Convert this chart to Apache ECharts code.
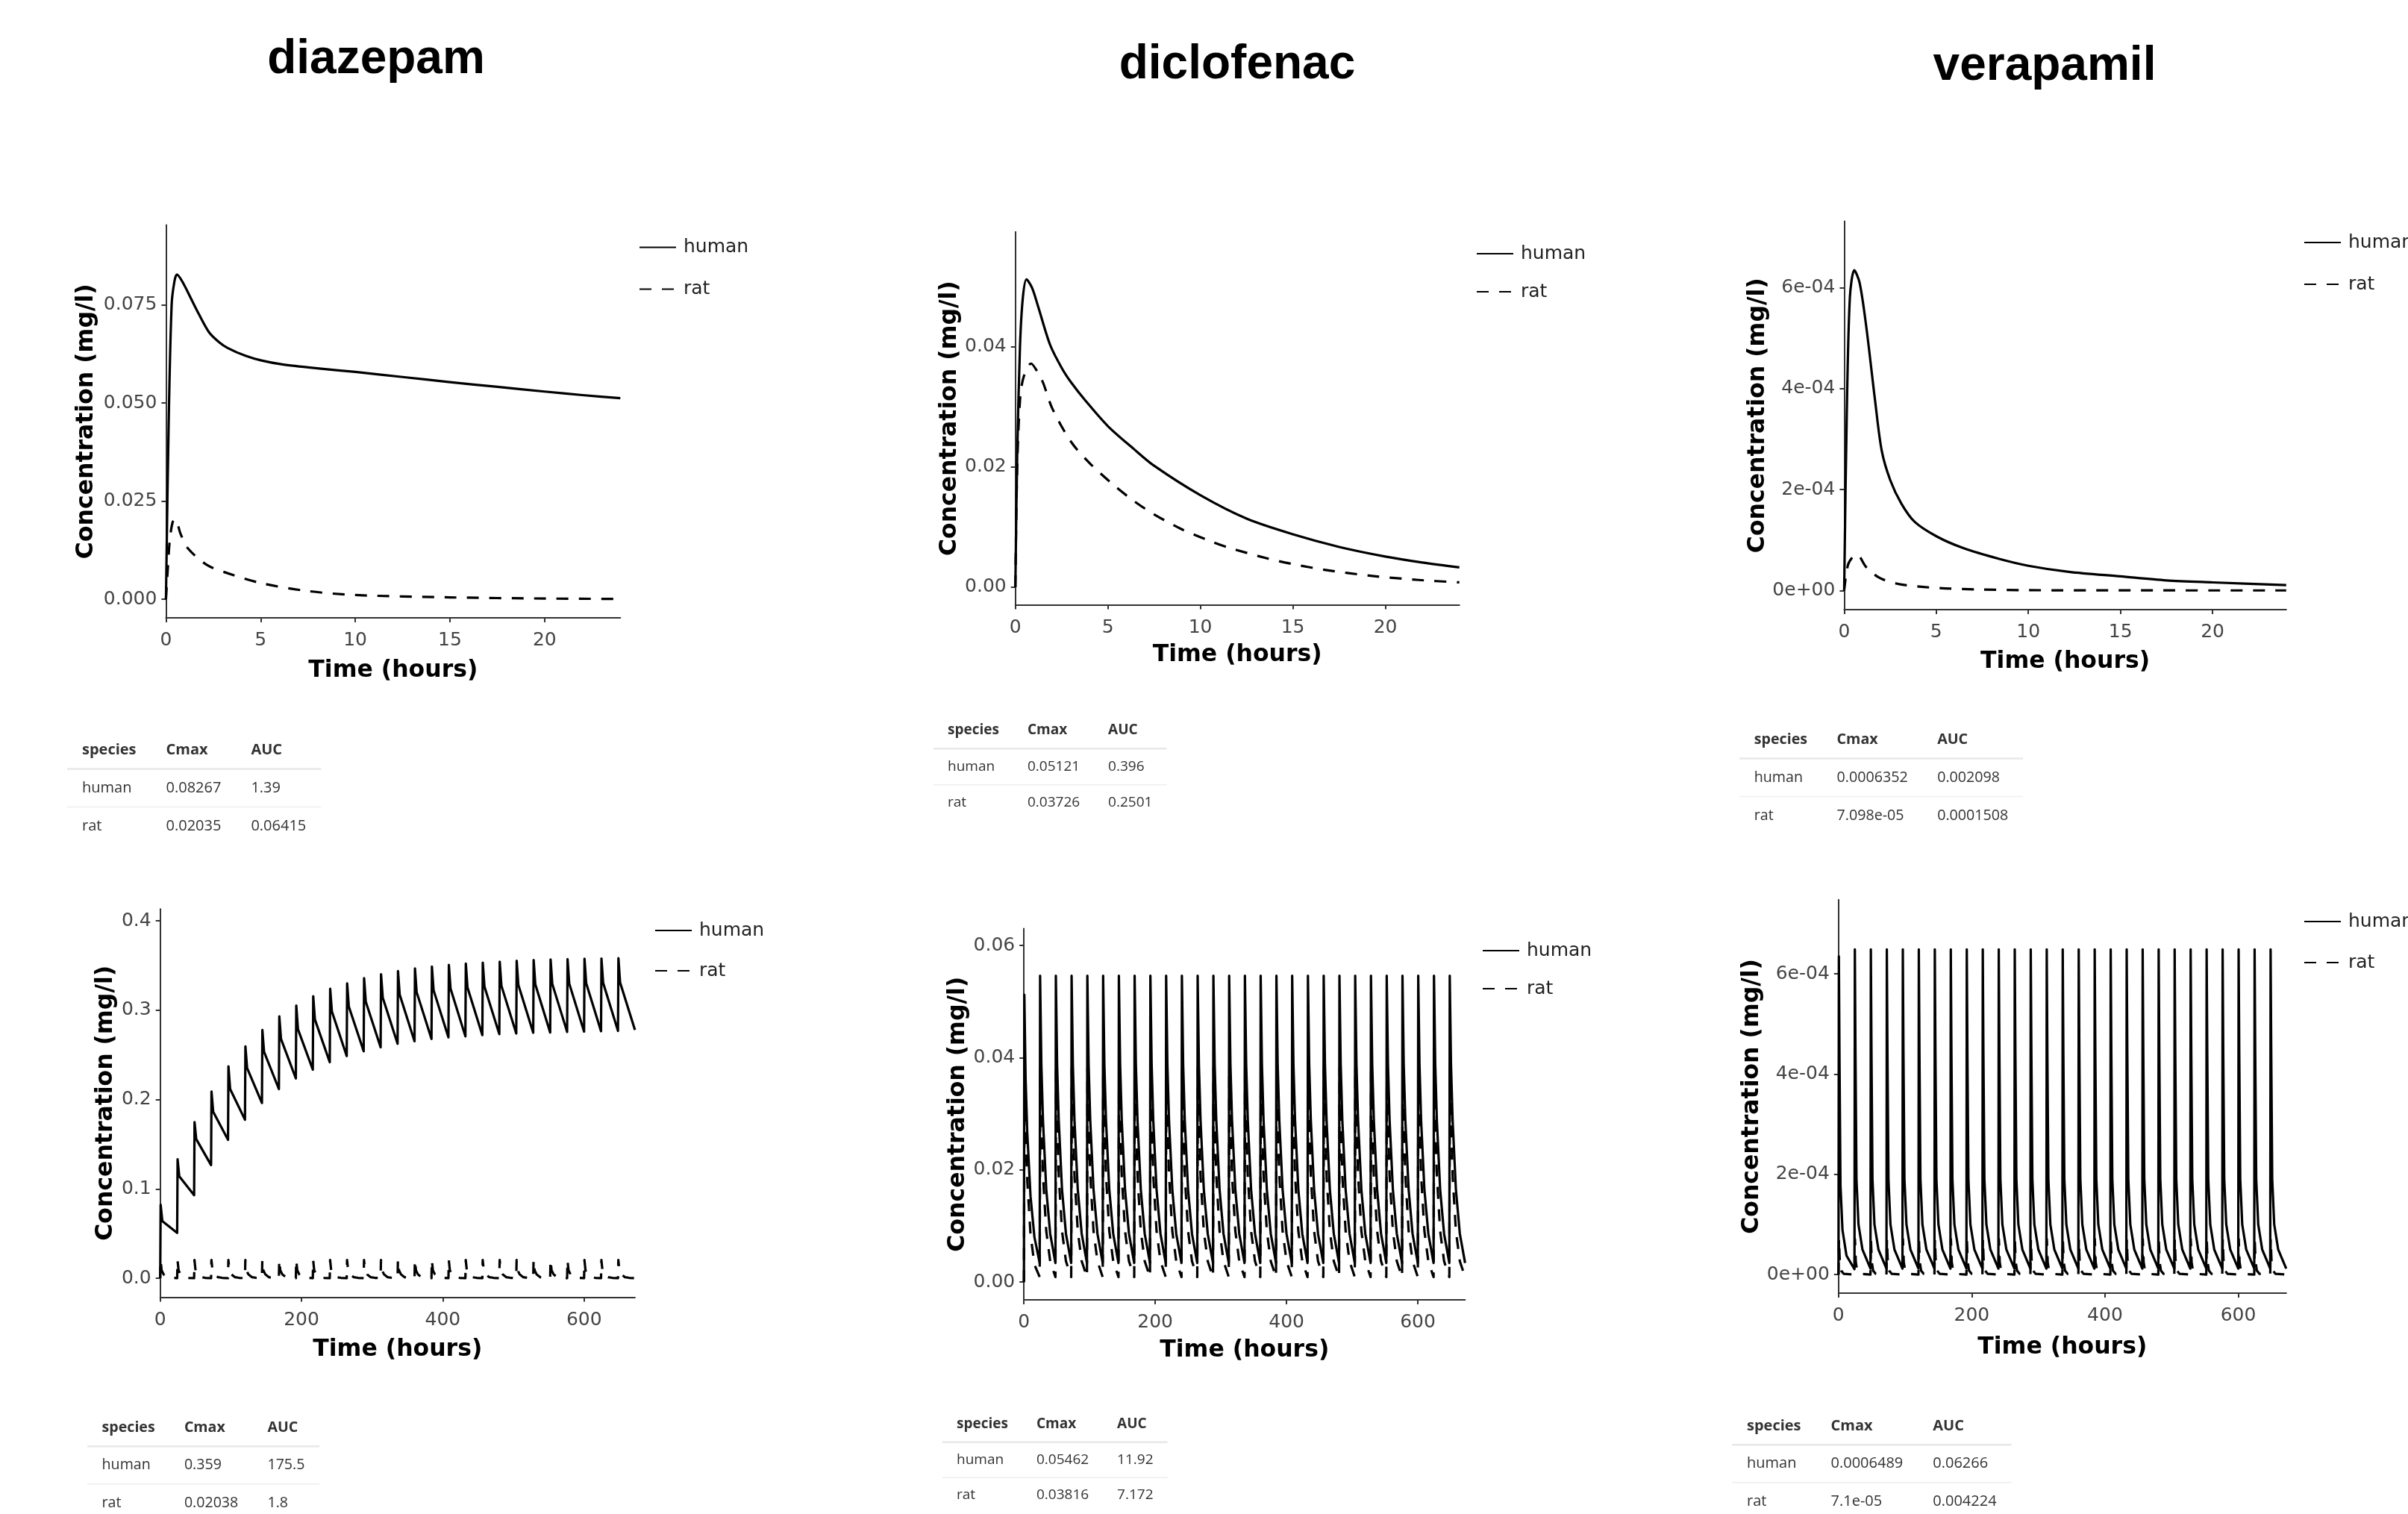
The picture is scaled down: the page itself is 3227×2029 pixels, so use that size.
<!DOCTYPE html>
<html><head><meta charset="utf-8">
<script src="https://cdn.jsdelivr.net/npm/echarts@6/dist/echarts.min.js"></script>
<style>html,body{margin:0;padding:0;background:#fff;}#c{width:3227px;height:2029px;}</style>
</head><body><div id="c"></div>
<script>
// ---------------- DATA ----------------
const drugNames = ['diazepam', 'diclofenac', 'verapamil'];
const seriesNames = ['human', 'rat'];
const xTicksShort = [0, 5, 10, 15, 20];
const xLabelsShort = ['0', '5', '10', '15', '20'];
const xTicksLong = [0, 200, 400, 600];
const xLabelsLong = ['0', '200', '400', '600'];
const dzShortYTicks = [0, 0.025, 0.05, 0.075];
const dzShortYLabels = ['0.000', '0.025', '0.050', '0.075'];
const dcShortYTicks = [0, 0.02, 0.04];
const dcShortYLabels = ['0.00', '0.02', '0.04'];
const vpYTicks = [0, 0.0002, 0.0004, 0.0006];
const vpYLabels = ['0e+00', '2e-04', '4e-04', '6e-04'];
const dzLongYTicks = [0, 0.1, 0.2, 0.3, 0.4];
const dzLongYLabels = ['0.0', '0.1', '0.2', '0.3', '0.4'];
const dcLongYTicks = [0, 0.02, 0.04, 0.06];
const dcLongYLabels = ['0.00', '0.02', '0.04', '0.06'];

// single dose, 0-24 h : [time (h), concentration (mg/l)]
const dzShortHuman = [[0,0],[0.14,0.044],[0.3,0.075],[0.45,0.081],[0.58,0.0827],[0.91,0.0805],[1.32,0.0766],[1.74,0.0726],[2.29,0.0679],[2.8,0.0655],[3.26,0.064],[4.2,0.062],[5.05,0.0608],[6.15,0.0598],[8,0.0588],[10,0.0579],[12.5,0.0566],[15,0.0553],[17.5,0.0541],[20,0.0529],[22,0.052],[24,0.0512]];
const dzShortRat = [[0,0],[0.1,0.008],[0.2,0.015],[0.35,0.0196],[0.5,0.0204],[0.77,0.0167],[1.19,0.0128],[2.15,0.0088],[3.1,0.0069],[5.05,0.0041],[7.5,0.0021],[10,0.0011],[15,0.0005],[20,0.0002],[24,0.0001]];
const dcShortHuman = [[0,0],[0.1,0.022],[0.25,0.04],[0.4,0.048],[0.6,0.0512],[0.9,0.0498],[1.23,0.0467],[1.88,0.0403],[2.52,0.0364],[3.03,0.034],[3.8,0.031],[5,0.0268],[6.4,0.023],[7.5,0.0202],[10,0.0153],[12.5,0.0114],[15,0.0088],[17.5,0.0067],[20,0.0051],[22,0.0041],[24,0.0033]];
const dcShortRat = [[0,0],[0.1,0.02],[0.26,0.0315],[0.45,0.035],[0.85,0.0372],[1.2,0.0358],[1.5,0.034],[2,0.0297],[3.03,0.0241],[4.06,0.0205],[5.35,0.0169],[6.38,0.0144],[7.4,0.0123],[8.95,0.0097],[10.5,0.0077],[11.5,0.0066],[13.6,0.0048],[14.9,0.0039],[16.7,0.0029],[19.2,0.0019],[21.8,0.0012],[24,0.0008]];
const vpShortHuman = [[0,0],[0.14,0.000347],[0.31,0.000581],[0.55,0.000635],[0.84,0.00061],[1.2,0.000523],[1.68,0.000376],[2.04,0.000277],[2.51,0.000218],[3.11,0.000172],[3.83,0.000136],[5.03,0.000107],[6.47,0.000084],[8.38,0.000063],[10,0.000049],[12.2,0.000037],[15,0.000028],[17.5,0.00002],[20,0.000016],[24,0.0000105]];
const vpShortRat = [[0,0],[0.2,0.00005],[0.45,0.000066],[0.7,0.000071],[1.2,0.000046],[1.92,0.000025],[2.87,0.0000135],[4.07,0.0000076],[5.5,0.0000041],[7.4,0.0000018],[10,0.0000006],[15,0.0000002],[24,0.0000001]];

// repeated dosing every 24 h, 0-672 h : [time (h), concentration (mg/l)]
const dzLongHuman = [[0,0],[0.6,0.0822],[3,0.064],[24,0.0507],[24.6,0.1332],[27,0.114],[48,0.093],[48.6,0.1748],[51,0.1557],[72,0.1267],[72.6,0.2089],[75,0.1864],[96,0.155],[96.6,0.2371],[99,0.2118],[120,0.1774],[120.6,0.2596],[123,0.2353],[144,0.1962],[144.6,0.278],[147,0.2534],[168,0.2118],[168.6,0.2932],[171,0.2679],[192,0.2237],[192.6,0.3052],[195,0.2787],[216,0.2335],[216.6,0.3157],[219,0.2896],[240,0.2418],[240.6,0.324],[243,0.2987],[264,0.2487],[264.6,0.3301],[267,0.3041],[288,0.2541],[288.6,0.3359],[291,0.3095],[312,0.2585],[312.6,0.3403],[315,0.3142],[336,0.2625],[336.6,0.3439],[339,0.3175],[360,0.2653],[360.6,0.3468],[363,0.3203],[384,0.2679],[384.6,0.349],[387,0.3224],[408,0.2697],[408.6,0.3508],[411,0.3241],[432,0.2708],[432.6,0.3522],[435,0.3254],[456,0.2722],[456.6,0.3533],[459,0.3265],[480,0.2733],[480.6,0.3544],[483,0.3274],[504,0.274],[504.6,0.3555],[507,0.3283],[528,0.2748],[528.6,0.3562],[531,0.3289],[552,0.2751],[552.6,0.3569],[555,0.3295],[576,0.2758],[576.6,0.3573],[579,0.3299],[600,0.2762],[600.6,0.3577],[603,0.3303],[624,0.2766],[624.6,0.358],[627,0.3306],[648,0.2769],[648.6,0.3584],[651,0.331],[672,0.278]];
const dzLongRat = [[0,0],[0.5,0.0204],[2,0.0088],[5,0.0041],[10,0.0011],[16,0.0004],[24,0.0001],[24.5,0.0204],[26,0.0088],[29,0.0041],[34,0.0011],[40,0.0004],[48,0.0001],[48.5,0.0204],[50,0.0088],[53,0.0041],[58,0.0011],[64,0.0004],[72,0.0001],[72.5,0.0204],[74,0.0088],[77,0.0041],[82,0.0011],[88,0.0004],[96,0.0001],[96.5,0.0204],[98,0.0088],[101,0.0041],[106,0.0011],[112,0.0004],[120,0.0001],[120.5,0.0204],[122,0.0088],[125,0.0041],[130,0.0011],[136,0.0004],[144,0.0001],[144.5,0.0204],[146,0.0088],[149,0.0041],[154,0.0011],[160,0.0004],[168,0.0001],[168.5,0.0204],[170,0.0088],[173,0.0041],[178,0.0011],[184,0.0004],[192,0.0001],[192.5,0.0204],[194,0.0088],[197,0.0041],[202,0.0011],[208,0.0004],[216,0.0001],[216.5,0.0204],[218,0.0088],[221,0.0041],[226,0.0011],[232,0.0004],[240,0.0001],[240.5,0.0204],[242,0.0088],[245,0.0041],[250,0.0011],[256,0.0004],[264,0.0001],[264.5,0.0204],[266,0.0088],[269,0.0041],[274,0.0011],[280,0.0004],[288,0.0001],[288.5,0.0204],[290,0.0088],[293,0.0041],[298,0.0011],[304,0.0004],[312,0.0001],[312.5,0.0204],[314,0.0088],[317,0.0041],[322,0.0011],[328,0.0004],[336,0.0001],[336.5,0.0204],[338,0.0088],[341,0.0041],[346,0.0011],[352,0.0004],[360,0.0001],[360.5,0.0204],[362,0.0088],[365,0.0041],[370,0.0011],[376,0.0004],[384,0.0001],[384.5,0.0204],[386,0.0088],[389,0.0041],[394,0.0011],[400,0.0004],[408,0.0001],[408.5,0.0204],[410,0.0088],[413,0.0041],[418,0.0011],[424,0.0004],[432,0.0001],[432.5,0.0204],[434,0.0088],[437,0.0041],[442,0.0011],[448,0.0004],[456,0.0001],[456.5,0.0204],[458,0.0088],[461,0.0041],[466,0.0011],[472,0.0004],[480,0.0001],[480.5,0.0204],[482,0.0088],[485,0.0041],[490,0.0011],[496,0.0004],[504,0.0001],[504.5,0.0204],[506,0.0088],[509,0.0041],[514,0.0011],[520,0.0004],[528,0.0001],[528.5,0.0204],[530,0.0088],[533,0.0041],[538,0.0011],[544,0.0004],[552,0.0001],[552.5,0.0204],[554,0.0088],[557,0.0041],[562,0.0011],[568,0.0004],[576,0.0001],[576.5,0.0204],[578,0.0088],[581,0.0041],[586,0.0011],[592,0.0004],[600,0.0001],[600.5,0.0204],[602,0.0088],[605,0.0041],[610,0.0011],[616,0.0004],[624,0.0001],[624.5,0.0204],[626,0.0088],[629,0.0041],[634,0.0011],[640,0.0004],[648,0.0001],[648.5,0.0204],[650,0.0088],[653,0.0041],[658,0.0011],[664,0.0004],[672,0.0001]];
const dcLongHuman = [[0,0],[0.6,0.0512],[2.5,0.0364],[5,0.0268],[10,0.0153],[16,0.008],[24,0.0034],[24.6,0.0546],[26.5,0.0389],[29,0.0288],[34,0.0165],[40,0.0086],[48,0.0034],[48.6,0.0546],[50.5,0.0389],[53,0.0288],[58,0.0165],[64,0.0086],[72,0.0034],[72.6,0.0546],[74.5,0.0389],[77,0.0288],[82,0.0165],[88,0.0086],[96,0.0034],[96.6,0.0546],[98.5,0.0389],[101,0.0288],[106,0.0165],[112,0.0086],[120,0.0034],[120.6,0.0546],[122.5,0.0389],[125,0.0288],[130,0.0165],[136,0.0086],[144,0.0034],[144.6,0.0546],[146.5,0.0389],[149,0.0288],[154,0.0165],[160,0.0086],[168,0.0034],[168.6,0.0546],[170.5,0.0389],[173,0.0288],[178,0.0165],[184,0.0086],[192,0.0034],[192.6,0.0546],[194.5,0.0389],[197,0.0288],[202,0.0165],[208,0.0086],[216,0.0034],[216.6,0.0546],[218.5,0.0389],[221,0.0288],[226,0.0165],[232,0.0086],[240,0.0034],[240.6,0.0546],[242.5,0.0389],[245,0.0288],[250,0.0165],[256,0.0086],[264,0.0034],[264.6,0.0546],[266.5,0.0389],[269,0.0288],[274,0.0165],[280,0.0086],[288,0.0034],[288.6,0.0546],[290.5,0.0389],[293,0.0288],[298,0.0165],[304,0.0086],[312,0.0034],[312.6,0.0546],[314.5,0.0389],[317,0.0288],[322,0.0165],[328,0.0086],[336,0.0034],[336.6,0.0546],[338.5,0.0389],[341,0.0288],[346,0.0165],[352,0.0086],[360,0.0034],[360.6,0.0546],[362.5,0.0389],[365,0.0288],[370,0.0165],[376,0.0086],[384,0.0034],[384.6,0.0546],[386.5,0.0389],[389,0.0288],[394,0.0165],[400,0.0086],[408,0.0034],[408.6,0.0546],[410.5,0.0389],[413,0.0288],[418,0.0165],[424,0.0086],[432,0.0034],[432.6,0.0546],[434.5,0.0389],[437,0.0288],[442,0.0165],[448,0.0086],[456,0.0034],[456.6,0.0546],[458.5,0.0389],[461,0.0288],[466,0.0165],[472,0.0086],[480,0.0034],[480.6,0.0546],[482.5,0.0389],[485,0.0288],[490,0.0165],[496,0.0086],[504,0.0034],[504.6,0.0546],[506.5,0.0389],[509,0.0288],[514,0.0165],[520,0.0086],[528,0.0034],[528.6,0.0546],[530.5,0.0389],[533,0.0288],[538,0.0165],[544,0.0086],[552,0.0034],[552.6,0.0546],[554.5,0.0389],[557,0.0288],[562,0.0165],[568,0.0086],[576,0.0034],[576.6,0.0546],[578.5,0.0389],[581,0.0288],[586,0.0165],[592,0.0086],[600,0.0034],[600.6,0.0546],[602.5,0.0389],[605,0.0288],[610,0.0165],[616,0.0086],[624,0.0034],[624.6,0.0546],[626.5,0.0389],[629,0.0288],[634,0.0165],[640,0.0086],[648,0.0034],[648.6,0.0546],[650.5,0.0389],[653,0.0288],[658,0.0165],[664,0.0086],[672,0.0034]];
const dcLongRat = [[0,0],[0.85,0.0373],[2,0.0298],[5,0.0183],[10,0.0085],[16,0.0031],[24,0.0009],[24.85,0.0382],[26,0.0305],[29,0.019],[34,0.0091],[40,0.0037],[48,0.0009],[48.85,0.0382],[50,0.0305],[53,0.019],[58,0.0091],[64,0.0037],[72,0.0009],[72.85,0.0382],[74,0.0305],[77,0.019],[82,0.0091],[88,0.0037],[96,0.0009],[96.85,0.0382],[98,0.0305],[101,0.019],[106,0.0091],[112,0.0037],[120,0.0009],[120.85,0.0382],[122,0.0305],[125,0.019],[130,0.0091],[136,0.0037],[144,0.0009],[144.85,0.0382],[146,0.0305],[149,0.019],[154,0.0091],[160,0.0037],[168,0.0009],[168.85,0.0382],[170,0.0305],[173,0.019],[178,0.0091],[184,0.0037],[192,0.0009],[192.85,0.0382],[194,0.0305],[197,0.019],[202,0.0091],[208,0.0037],[216,0.0009],[216.85,0.0382],[218,0.0305],[221,0.019],[226,0.0091],[232,0.0037],[240,0.0009],[240.85,0.0382],[242,0.0305],[245,0.019],[250,0.0091],[256,0.0037],[264,0.0009],[264.85,0.0382],[266,0.0305],[269,0.019],[274,0.0091],[280,0.0037],[288,0.0009],[288.85,0.0382],[290,0.0305],[293,0.019],[298,0.0091],[304,0.0037],[312,0.0009],[312.85,0.0382],[314,0.0305],[317,0.019],[322,0.0091],[328,0.0037],[336,0.0009],[336.85,0.0382],[338,0.0305],[341,0.019],[346,0.0091],[352,0.0037],[360,0.0009],[360.85,0.0382],[362,0.0305],[365,0.019],[370,0.0091],[376,0.0037],[384,0.0009],[384.85,0.0382],[386,0.0305],[389,0.019],[394,0.0091],[400,0.0037],[408,0.0009],[408.85,0.0382],[410,0.0305],[413,0.019],[418,0.0091],[424,0.0037],[432,0.0009],[432.85,0.0382],[434,0.0305],[437,0.019],[442,0.0091],[448,0.0037],[456,0.0009],[456.85,0.0382],[458,0.0305],[461,0.019],[466,0.0091],[472,0.0037],[480,0.0009],[480.85,0.0382],[482,0.0305],[485,0.019],[490,0.0091],[496,0.0037],[504,0.0009],[504.85,0.0382],[506,0.0305],[509,0.019],[514,0.0091],[520,0.0037],[528,0.0009],[528.85,0.0382],[530,0.0305],[533,0.019],[538,0.0091],[544,0.0037],[552,0.0009],[552.85,0.0382],[554,0.0305],[557,0.019],[562,0.0091],[568,0.0037],[576,0.0009],[576.85,0.0382],[578,0.0305],[581,0.019],[586,0.0091],[592,0.0037],[600,0.0009],[600.85,0.0382],[602,0.0305],[605,0.019],[610,0.0091],[616,0.0037],[624,0.0009],[624.85,0.0382],[626,0.0305],[629,0.019],[634,0.0091],[640,0.0037],[648,0.0009],[648.85,0.0382],[650,0.0305],[653,0.019],[658,0.0091],[664,0.0037],[672,0.0009]];
const vpLongHuman = [[0,0],[0.55,0.000635],[1.5,0.00043],[3,0.000177],[6,0.000089],[12,0.000038],[24,0.000011],[24.55,0.000649],[25.5,0.000443],[27,0.00019],[30,0.0001],[36,0.00005],[48,0.000012],[48.55,0.000649],[49.5,0.000443],[51,0.00019],[54,0.0001],[60,0.00005],[72,0.000012],[72.55,0.000649],[73.5,0.000443],[75,0.00019],[78,0.0001],[84,0.00005],[96,0.000012],[96.55,0.000649],[97.5,0.000443],[99,0.00019],[102,0.0001],[108,0.00005],[120,0.000012],[120.55,0.000649],[121.5,0.000443],[123,0.00019],[126,0.0001],[132,0.00005],[144,0.000012],[144.55,0.000649],[145.5,0.000443],[147,0.00019],[150,0.0001],[156,0.00005],[168,0.000012],[168.55,0.000649],[169.5,0.000443],[171,0.00019],[174,0.0001],[180,0.00005],[192,0.000012],[192.55,0.000649],[193.5,0.000443],[195,0.00019],[198,0.0001],[204,0.00005],[216,0.000012],[216.55,0.000649],[217.5,0.000443],[219,0.00019],[222,0.0001],[228,0.00005],[240,0.000012],[240.55,0.000649],[241.5,0.000443],[243,0.00019],[246,0.0001],[252,0.00005],[264,0.000012],[264.55,0.000649],[265.5,0.000443],[267,0.00019],[270,0.0001],[276,0.00005],[288,0.000012],[288.55,0.000649],[289.5,0.000443],[291,0.00019],[294,0.0001],[300,0.00005],[312,0.000012],[312.55,0.000649],[313.5,0.000443],[315,0.00019],[318,0.0001],[324,0.00005],[336,0.000012],[336.55,0.000649],[337.5,0.000443],[339,0.00019],[342,0.0001],[348,0.00005],[360,0.000012],[360.55,0.000649],[361.5,0.000443],[363,0.00019],[366,0.0001],[372,0.00005],[384,0.000012],[384.55,0.000649],[385.5,0.000443],[387,0.00019],[390,0.0001],[396,0.00005],[408,0.000012],[408.55,0.000649],[409.5,0.000443],[411,0.00019],[414,0.0001],[420,0.00005],[432,0.000012],[432.55,0.000649],[433.5,0.000443],[435,0.00019],[438,0.0001],[444,0.00005],[456,0.000012],[456.55,0.000649],[457.5,0.000443],[459,0.00019],[462,0.0001],[468,0.00005],[480,0.000012],[480.55,0.000649],[481.5,0.000443],[483,0.00019],[486,0.0001],[492,0.00005],[504,0.000012],[504.55,0.000649],[505.5,0.000443],[507,0.00019],[510,0.0001],[516,0.00005],[528,0.000012],[528.55,0.000649],[529.5,0.000443],[531,0.00019],[534,0.0001],[540,0.00005],[552,0.000012],[552.55,0.000649],[553.5,0.000443],[555,0.00019],[558,0.0001],[564,0.00005],[576,0.000012],[576.55,0.000649],[577.5,0.000443],[579,0.00019],[582,0.0001],[588,0.00005],[600,0.000012],[600.55,0.000649],[601.5,0.000443],[603,0.00019],[606,0.0001],[612,0.00005],[624,0.000012],[624.55,0.000649],[625.5,0.000443],[627,0.00019],[630,0.0001],[636,0.00005],[648,0.000012],[648.55,0.000649],[649.5,0.000443],[651,0.00019],[654,0.0001],[660,0.00005],[672,0.000012]];
const vpLongRat = [[0,0],[0.7,0.000071],[2,0.000025],[4,0.000008],[8,0.0000016],[24,0.0000002],[24.7,0.000071],[26,0.000025],[28,0.000008],[32,0.0000016],[48,0.0000002],[48.7,0.000071],[50,0.000025],[52,0.000008],[56,0.0000016],[72,0.0000002],[72.7,0.000071],[74,0.000025],[76,0.000008],[80,0.0000016],[96,0.0000002],[96.7,0.000071],[98,0.000025],[100,0.000008],[104,0.0000016],[120,0.0000002],[120.7,0.000071],[122,0.000025],[124,0.000008],[128,0.0000016],[144,0.0000002],[144.7,0.000071],[146,0.000025],[148,0.000008],[152,0.0000016],[168,0.0000002],[168.7,0.000071],[170,0.000025],[172,0.000008],[176,0.0000016],[192,0.0000002],[192.7,0.000071],[194,0.000025],[196,0.000008],[200,0.0000016],[216,0.0000002],[216.7,0.000071],[218,0.000025],[220,0.000008],[224,0.0000016],[240,0.0000002],[240.7,0.000071],[242,0.000025],[244,0.000008],[248,0.0000016],[264,0.0000002],[264.7,0.000071],[266,0.000025],[268,0.000008],[272,0.0000016],[288,0.0000002],[288.7,0.000071],[290,0.000025],[292,0.000008],[296,0.0000016],[312,0.0000002],[312.7,0.000071],[314,0.000025],[316,0.000008],[320,0.0000016],[336,0.0000002],[336.7,0.000071],[338,0.000025],[340,0.000008],[344,0.0000016],[360,0.0000002],[360.7,0.000071],[362,0.000025],[364,0.000008],[368,0.0000016],[384,0.0000002],[384.7,0.000071],[386,0.000025],[388,0.000008],[392,0.0000016],[408,0.0000002],[408.7,0.000071],[410,0.000025],[412,0.000008],[416,0.0000016],[432,0.0000002],[432.7,0.000071],[434,0.000025],[436,0.000008],[440,0.0000016],[456,0.0000002],[456.7,0.000071],[458,0.000025],[460,0.000008],[464,0.0000016],[480,0.0000002],[480.7,0.000071],[482,0.000025],[484,0.000008],[488,0.0000016],[504,0.0000002],[504.7,0.000071],[506,0.000025],[508,0.000008],[512,0.0000016],[528,0.0000002],[528.7,0.000071],[530,0.000025],[532,0.000008],[536,0.0000016],[552,0.0000002],[552.7,0.000071],[554,0.000025],[556,0.000008],[560,0.0000016],[576,0.0000002],[576.7,0.000071],[578,0.000025],[580,0.000008],[584,0.0000016],[600,0.0000002],[600.7,0.000071],[602,0.000025],[604,0.000008],[608,0.0000016],[624,0.0000002],[624.7,0.000071],[626,0.000025],[628,0.000008],[632,0.0000016],[648,0.0000002],[648.7,0.000071],[650,0.000025],[652,0.000008],[656,0.0000016],[672,0.0000002]];

// summary tables
const tableHeader = ['species', 'Cmax', 'AUC'];
const dzShortTable = [['human', '0.08267', '1.39'], ['rat', '0.02035', '0.06415']];
const dcShortTable = [['human', '0.05121', '0.396'], ['rat', '0.03726', '0.2501']];
const vpShortTable = [['human', '0.0006352', '0.002098'], ['rat', '7.098e-05', '0.0001508']];
const dzLongTable = [['human', '0.359', '175.5'], ['rat', '0.02038', '1.8']];
const dcLongTable = [['human', '0.05462', '11.92'], ['rat', '0.03816', '7.172']];
const vpLongTable = [['human', '0.0006489', '0.06266'], ['rat', '7.1e-05', '0.004224']];

// ---------------- LAYOUT ----------------
const panels = [
  {grid:{left:222.4,top:301.6,width:608.9,height:526.4}, xMax:24, xT:xTicksShort, xL:xLabelsShort, yMin:-0.00471, yMax:0.09529, yT:dzShortYTicks, yL:dzShortYLabels, h:dzShortHuman, r:dzShortRat, smooth:true, yGap:91, xGap:55,
   legend:{left:856, top:319, gap:31}},
  {grid:{left:1360.7,top:310.8,width:595,height:499.8}, xMax:24, xT:xTicksShort, xL:xLabelsShort, yMin:-0.00294, yMax:0.0591, yT:dcShortYTicks, yL:dcShortYLabels, h:dcShortHuman, r:dcShortRat, smooth:true, yGap:72, xGap:51,
   legend:{left:1978, top:327.5, gap:26}},
  {grid:{left:2471.4,top:296.6,width:592.4,height:520.4}, xMax:24, xT:xTicksShort, xL:xLabelsShort, yMin:-0.000038, yMax:0.000732, yT:vpYTicks, yL:vpYLabels, h:vpShortHuman, r:vpShortRat, smooth:true, yGap:92.5, xGap:54,
   legend:{left:3087, top:312.5, gap:31}},
  {grid:{left:214.7,top:1218.2,width:636.2,height:520.3}, xMax:672, xT:xTicksLong, xL:xLabelsLong, yMin:-0.0213, yMax:0.4134, yT:dzLongYTicks, yL:dzLongYLabels, h:dzLongHuman, r:dzLongRat, smooth:false, yGap:57, xGap:54,
   legend:{left:877, top:1234.5, gap:29}},
  {grid:{left:1372.2,top:1244.5,width:591.2,height:497.5}, xMax:672, xT:xTicksLong, xL:xLabelsLong, yMin:-0.00317, yMax:0.063, yT:dcLongYTicks, yL:dcLongYLabels, h:dcLongHuman, r:dcLongRat, smooth:false, yGap:72, xGap:51.5,
   legend:{left:1986, top:1261.5, gap:26}},
  {grid:{left:2463.8,top:1205.8,width:600,height:527.3}, xMax:672, xT:xTicksLong, xL:xLabelsLong, yMin:-0.000037, yMax:0.000748, yT:vpYTicks, yL:vpYLabels, h:vpLongHuman, r:vpLongRat, smooth:false, yGap:94, xGap:57,
   legend:{left:3087, top:1222.5, gap:30}}
];
const titles = [{x:504, y:80}, {x:1658, y:87}, {x:2740, y:89}];
const tables = [
  {rows:dzShortTable, left:90, y:1005, fs:20, pitch:51},
  {rows:dcShortTable, left:1251, y:979, fs:19, pitch:48.5},
  {rows:vpShortTable, left:2331, y:991, fs:19.7, pitch:51},
  {rows:dzLongTable, left:117, y:1913, fs:19.6, pitch:50.5},
  {rows:dcLongTable, left:1263, y:1909, fs:19, pitch:47.5},
  {rows:vpLongTable, left:2321, y:1911, fs:20, pitch:50.5}
];

const INK = '#000';
const AXIS = '#333';
const tickFont = {fontFamily:'DejaVu Sans', fontSize:25, color:'#444'};
const nameFont = {fontFamily:'DejaVu Sans', fontWeight:'bold', fontSize:31.5, color:'#000'};

function labelFor(ticks, labels) {
  return function (v) {
    for (let i = 0; i < ticks.length; i++) {
      if (Math.abs(ticks[i] - v) < 1e-12) return labels[i];
    }
    return '';
  };
}

const grids = [], xAxes = [], yAxes = [], series = [], legends = [];
panels.forEach((p, i) => {
  grids.push(Object.assign({show:false, containLabel:false, outerBoundsMode:'none'}, p.grid));
  xAxes.push({
    type:'value', gridIndex:i, min:0, max:p.xMax, splitLine:{show:false},
    axisLine:{show:true, onZero:false, lineStyle:{color:AXIS, width:2}},
    axisTick:{show:true, inside:false, length:6, customValues:p.xT, lineStyle:{color:AXIS, width:2}},
    axisLabel:Object.assign({customValues:p.xT, margin:18, formatter:labelFor(p.xT, p.xL)}, tickFont),
    name:'Time (hours)', nameLocation:'middle', nameGap:p.xGap, nameTextStyle:nameFont
  });
  yAxes.push({
    type:'value', gridIndex:i, min:p.yMin, max:p.yMax, splitLine:{show:false},
    axisLine:{show:true, onZero:false, lineStyle:{color:AXIS, width:2}},
    axisTick:{show:true, inside:false, length:6, customValues:p.yT, lineStyle:{color:AXIS, width:2}},
    axisLabel:Object.assign({customValues:p.yT, margin:12, formatter:labelFor(p.yT, p.yL)}, tickFont),
    name:'Concentration (mg/l)', nameLocation:'middle', nameGap:p.yGap, nameRotate:90, nameTextStyle:nameFont
  });
  const sm = p.smooth ? 0.3 : false;
  series.push({
    name:seriesNames[0], type:'line', xAxisIndex:i, yAxisIndex:i, data:p.h,
    showSymbol:false, symbol:'none', smooth:sm, silent:true,
    lineStyle:{color:INK, width:3.2, type:'solid', join:'round'}, itemStyle:{color:INK}
  });
  series.push({
    name:seriesNames[1], type:'line', xAxisIndex:i, yAxisIndex:i, data:p.r,
    showSymbol:false, symbol:'none', smooth:sm, silent:true,
    lineStyle:{color:INK, width:3.2, type:[16, 14], join:'round'}, itemStyle:{color:INK}
  });
  legends.push({
    show:true, orient:'vertical', left:p.legend.left, top:p.legend.top, itemGap:p.legend.gap,
    itemWidth:49, itemHeight:14, padding:0, selectedMode:false,
    data:seriesNames,
    itemStyle:{color:'rgba(0,0,0,0)', borderColor:'rgba(0,0,0,0)', borderWidth:0},
    textStyle:{fontFamily:'DejaVu Sans', fontSize:25, color:'#222', padding:[0,0,0,5]}
  });
});

// graphic: titles + tables
const graphics = [];
drugNames.forEach((n, i) => {
  graphics.push({type:'text', x:titles[i].x, y:titles[i].y, silent:true,
    style:{text:n, fontFamily:'Liberation Sans, Arial, sans-serif', fontWeight:'bold', fontSize:64, fill:'#000', align:'center', verticalAlign:'middle'}});
});
const mctx = document.createElement('canvas').getContext('2d');
function measure(t, font) { mctx.font = font; return mctx.measureText(t).width; }
tables.forEach(t => {
  const pad = t.fs;
  const hf = 'bold ' + t.fs + 'px "Open Sans"';
  const bf = t.fs + 'px "Open Sans"';
  let x = t.left + pad;
  const colX = [];
  for (let c = 0; c < tableHeader.length; c++) {
    let w = measure(tableHeader[c], hf);
    t.rows.forEach(r => { w = Math.max(w, measure(r[c], bf)); });
    colX.push(x);
    x += w + 2 * pad;
  }
  const right = x - pad;
  tableHeader.forEach((h, c) => {
    graphics.push({type:'text', x:colX[c], y:t.y, silent:true,
      style:{text:h, fontFamily:'Open Sans', fontWeight:'bold', fontSize:t.fs, fill:'#333', align:'left', verticalAlign:'middle'}});
  });
  graphics.push({type:'line', silent:true, shape:{x1:t.left, y1:t.y + t.pitch / 2, x2:right, y2:t.y + t.pitch / 2}, style:{stroke:'#e8e8e8', lineWidth:2.5}});
  t.rows.forEach((r, ri) => {
    const yy = t.y + t.pitch * (ri + 1);
    r.forEach((cell, c) => {
      graphics.push({type:'text', x:colX[c], y:yy, silent:true,
        style:{text:cell, fontFamily:'Open Sans', fontSize:t.fs, fill:'#333', align:'left', verticalAlign:'middle'}});
    });
    if (ri < t.rows.length - 1) {
      graphics.push({type:'line', silent:true, shape:{x1:t.left, y1:yy + t.pitch / 2, x2:right, y2:yy + t.pitch / 2}, style:{stroke:'#eeeeee', lineWidth:1.5}});
    }
  });
});

const chart = echarts.init(document.getElementById('c'), null, {renderer:'canvas', width:3227, height:2029});
chart.setOption({
  backgroundColor:'#ffffff',
  animation:false,
  tooltip:{show:false},
  grid:grids, xAxis:xAxes, yAxis:yAxes, series:series, legend:legends,
  graphic:{elements:graphics}
});
</script></body></html>
